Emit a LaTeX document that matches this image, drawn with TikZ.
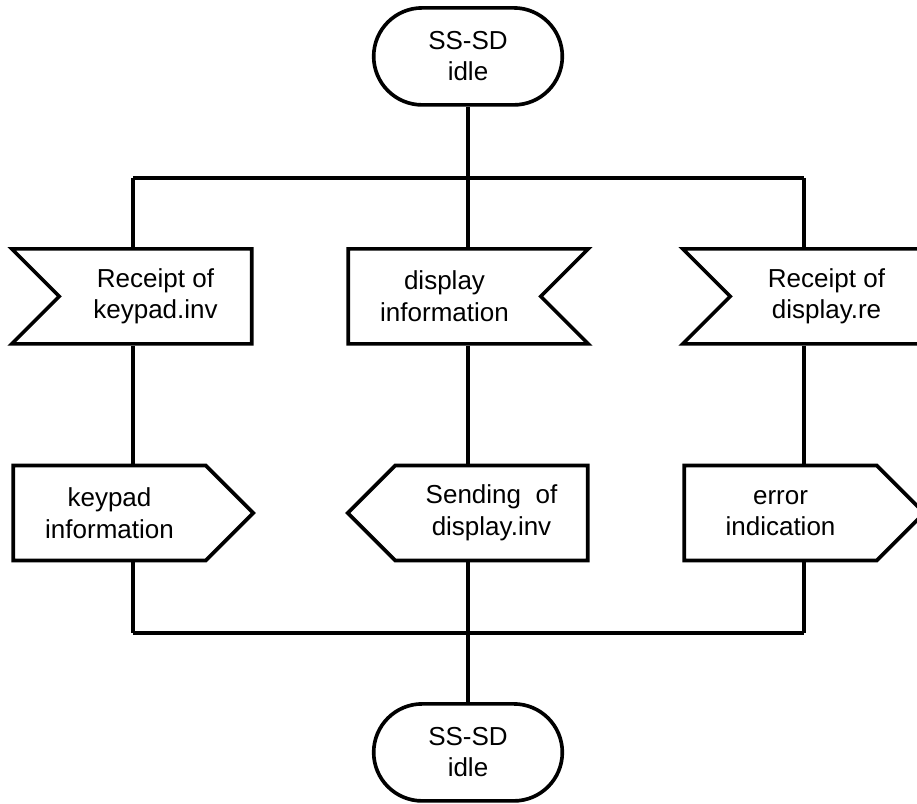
\documentclass[tikz,border=0pt]{standalone}
\usepackage{fontspec}
\setmainfont{Liberation Sans}
\usetikzlibrary{shapes.misc, shapes.symbols, positioning}

\tikzset{
  sdl/.style={line width=2.6pt, line join=miter},
  state/.style={sdl, draw, rounded rectangle, minimum width=4.95cm, minimum height=2.425cm, align=center, font=\fontsize{18.5}{22}\selectfont},
  sig/.style={sdl, draw, signal, signal pointer angle=90, minimum width=6cm, minimum height=2.375cm, inner sep=0pt, align=center, font=\fontsize{18.5}{22.5}\selectfont},
  inleft/.style={sig, signal from=west, signal to=nowhere},
  inright/.style={sig, signal from=east, signal to=nowhere},
  outleft/.style={sig, signal to=west},
  outright/.style={sig, signal to=east},
}

\begin{document}
\begin{tikzpicture}
				\useasboundingbox (0,0) rectangle (22.925,-20.1);
				
				% States
				\node[state] (idleA) at (11.7,-1.41) {SS-SD\\idle};
				\node[state] (idleB) at (11.7,-18.81) {SS-SD\\idle};
				
				% Branch points
				\coordinate (splitL) at (3.325,-4.45);
				\coordinate (splitR) at (20.1,-4.45);
				\coordinate (joinL) at (3.325,-15.825);
				\coordinate (joinR) at (20.1,-15.825);
				
				% Inputs
				\node[inleft] (keyIn) at (3.8875,-7.41) {Receipt of\\keypad.inv};
				\node[inright] (dispIn) at (11.1125,-7.41) {display\\information};
				\node[inleft] (reIn) at (20.6625,-7.41) {Receipt of\\display.re};
				
				% Outputs
				\node[outright] (keyOut) at (2.7375,-12.825) {keypad\\information};
				\node[outleft] (dispOut) at (12.2875,-12.825) {Sending~~of\\display.inv};
				\node[outright] (errOut) at (19.5125,-12.825) {error\\indication};
				
				% Lines
				\draw[line width=3.4pt] (idleA.south) -- (idleA.south |- splitL);
				\draw[sdl] (splitL) -- (splitR);
				\draw[sdl] (splitL) -- (splitL |- keyIn.north);
				\draw[sdl] (idleA |- splitL) -- (idleA |- dispIn.north);
				\draw[sdl] (splitR) -- (splitR |- reIn.north);
				\draw[sdl] (splitL |- keyIn.south) -- (splitL |- keyOut.north);
				\draw[sdl] (idleA |- dispIn.south) -- (idleA |- dispOut.north);
				\draw[sdl] (splitR |- reIn.south) -- (splitR |- errOut.north);
				\draw[sdl] (splitL |- keyOut.south) -- (joinL);
				\draw[sdl] (idleA |- dispOut.south) -- (idleA |- joinL);
				\draw[sdl] (splitR |- errOut.south) -- (joinR);
				\draw[sdl] (joinL) -- (joinR);
				\draw[line width=3.4pt] (idleA |- joinL) -- (idleB.north);
\end{tikzpicture}
\end{document}
